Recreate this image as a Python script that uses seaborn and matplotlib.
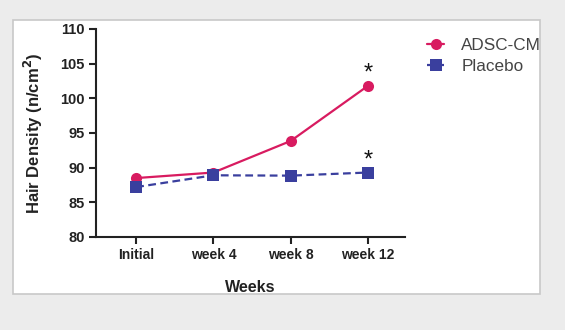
import matplotlib
matplotlib.use("Agg")
import matplotlib.pyplot as plt
import matplotlib.patches as mpatches
import seaborn as sns
import pandas as pd

weeks = ["Initial", "week 4", "week 8", "week 12"]
adsc = [88.5, 89.3, 93.85, 101.8]
placebo = [87.2, 88.9, 88.85, 89.3]
series_names = ["ADSC-CM", "Placebo"]
yticks = [80, 85, 90, 95, 100, 105, 110]

df = pd.DataFrame({
    "Weeks": weeks * 2,
    "value": adsc + placebo,
    "group": [series_names[0]] * len(weeks) + [series_names[1]] * len(weeks),
})

sns.set_style("ticks")
plt.rcParams["font.family"] = ["Liberation Sans", "DejaVu Sans"]

fig = plt.figure(figsize=(5.65, 3.3), dpi=100)
fig.patch.set_facecolor("#ececec")
panel = mpatches.Rectangle((13 / 565, 1 - 294 / 330), (540 - 13) / 565, (294 - 20) / 330,
                           transform=fig.transFigure, facecolor="white",
                           edgecolor="#c8c8c8", linewidth=1.2, zorder=-10)
fig.patches.append(panel)

ax = fig.add_axes([96 / 565, 1 - 237 / 330, (405 - 96) / 565, (237 - 29) / 330])
ax.set_zorder(5)
ax.set_facecolor("none")

palette = {"ADSC-CM": "#d81b60", "Placebo": "#3a3f9e"}
sns.lineplot(data=df, x="Weeks", y="value", hue="group", style="group",
             markers={"ADSC-CM": "o", "Placebo": "s"},
             dashes={"ADSC-CM": "", "Placebo": (3.5, 2)},
             palette=palette, markersize=8, linewidth=1.6,
             markeredgewidth=0, ax=ax, sort=False)

ax.set_ylim(80, 110)
ax.set_xlim(-0.52, 3.48)
ax.set_yticks(yticks)
ax.set_yticklabels([str(t) for t in yticks], fontsize=10.5, fontweight="bold", color="#222222")
ax.set_xticks(range(len(weeks)))
ax.set_xticklabels(weeks, fontsize=10, fontweight="bold", color="#222222")
ax.set_ylabel("Hair Density (n/cm$^\\mathbf{2}$)", fontsize=12, fontweight="bold",
              labelpad=11, color="#222222")
ax.set_xlabel("Weeks", fontsize=11.5, fontweight="bold", labelpad=13, color="#222222")
for s in ["top", "right"]:
    ax.spines[s].set_visible(False)
for s in ["left", "bottom"]:
    ax.spines[s].set_linewidth(1.5)
    ax.spines[s].set_color("#222222")
ax.tick_params(axis="both", direction="out", length=5, width=1.5, color="#222222", pad=3)

# significance asterisks
ax.annotate("*", (3, adsc[3]), xytext=(0, 1), textcoords="offset points",
            ha="center", va="bottom", fontsize=17, color="#111111")
ax.annotate("*", (3, placebo[3]), xytext=(0, 1), textcoords="offset points",
            ha="center", va="bottom", fontsize=17, color="#111111")

leg = ax.legend(loc="upper left", frameon=False, borderaxespad=0,
                fontsize=12.3, handlelength=1.0, handletextpad=1.0, labelspacing=0.35)
leg.set_bbox_to_anchor((1.05, 0.99), transform=ax.transAxes)
for t in leg.get_texts():
    t.set_color("#444444")
    t.set_clip_path(panel)

fig.savefig("out.png", dpi=100, facecolor=fig.get_facecolor())
